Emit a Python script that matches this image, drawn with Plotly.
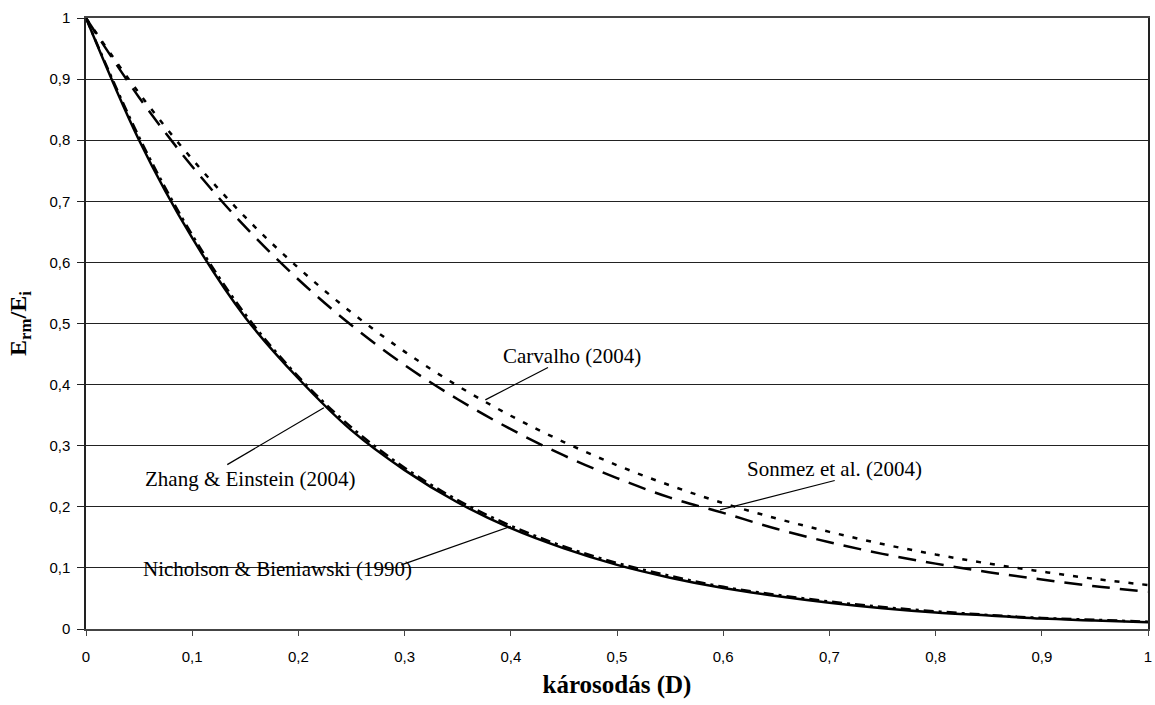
import plotly.graph_objects as go

D = [0, 0.05, 0.1, 0.15, 0.2, 0.25, 0.3, 0.35, 0.4, 0.45, 0.5,
     0.55, 0.6, 0.65, 0.7, 0.75, 0.8, 0.85, 0.9, 0.95, 1.0]

nicholson = [1, 0.80, 0.64, 0.51, 0.41, 0.325, 0.26, 0.207, 0.165, 0.132, 0.105,
             0.084, 0.067, 0.054, 0.043, 0.034, 0.027, 0.022, 0.017, 0.014, 0.011]
zhang = [1, 0.805, 0.645, 0.515, 0.413, 0.33, 0.264, 0.211, 0.169, 0.135, 0.108,
         0.087, 0.069, 0.056, 0.045, 0.036, 0.029, 0.023, 0.018, 0.015, 0.012]
carvalho = [1, 0.877, 0.769, 0.674, 0.591, 0.518, 0.454, 0.398, 0.349, 0.306, 0.268,
            0.235, 0.206, 0.181, 0.159, 0.139, 0.122, 0.107, 0.094, 0.082, 0.072]
sonmez = [1, 0.87, 0.757, 0.658, 0.572, 0.497, 0.432, 0.376, 0.327, 0.284, 0.247,
          0.215, 0.19, 0.164, 0.142, 0.123, 0.107, 0.093, 0.081, 0.070, 0.061]

tick_vals = [0, 0.1, 0.2, 0.3, 0.4, 0.5, 0.6, 0.7, 0.8, 0.9, 1]
tick_text = ["0", "0,1", "0,2", "0,3", "0,4", "0,5", "0,6", "0,7", "0,8", "0,9", "1"]

labels = ["Carvalho (2004)", "Sonmez et al. (2004)",
          "Zhang & Einstein (2004)", "Nicholson & Bieniawski (1990)"]

fig = go.Figure()
fig.add_trace(go.Scatter(x=D, y=carvalho, mode="lines", name=labels[0],
                         line=dict(color="black", width=2.5, dash="5px,9px", shape="spline")))
fig.add_trace(go.Scatter(x=D, y=sonmez, mode="lines", name=labels[1],
                         line=dict(color="black", width=2.5, dash="18px,10px", shape="spline")))
fig.add_trace(go.Scatter(x=D, y=nicholson, mode="lines", name=labels[3],
                         line=dict(color="black", width=2.5, shape="spline")))
fig.add_trace(go.Scatter(x=D, y=zhang, mode="lines", name=labels[2],
                         line=dict(color="black", width=2.5, dash="10px,5px,3px,5px", shape="spline")))

serif = "Liberation Serif, Times New Roman, serif"
ann_font = dict(family=serif, size=21, color="black")

# text centre (x, y), leader tip (x, y), leader start (x, y) in data coords
pos = [(0.458, 0.447, 0.376, 0.375, 0.435, 0.428),
       (0.705, 0.262, 0.597, 0.195, 0.705, 0.243),
       (0.155, 0.246, 0.224, 0.362, 0.133, 0.269),
       (0.18, 0.098, 0.40, 0.168, 0.297, 0.105)]
for lab, (tx, ty, ax0, ay0, ax1, ay1) in zip(labels, pos):
    fig.add_annotation(x=tx, y=ty, text=lab, showarrow=False, font=ann_font,
                       xanchor="center", yanchor="middle")
    fig.add_shape(type="line", x0=ax1, y0=ay1, x1=ax0, y1=ay0,
                  line=dict(color="black", width=1.2))

fig.update_layout(
    width=1155, height=705,
    margin=dict(l=86, r=3, t=18, b=76),
    paper_bgcolor="white", plot_bgcolor="white",
    showlegend=False,
    font=dict(family="Liberation Sans, Arial, sans-serif", size=15, color="black"),
)
fig.update_xaxes(range=[0, 1], tickvals=tick_vals, ticktext=tick_text,
                 showgrid=False, zeroline=False, showline=True, linecolor="#444",
                 linewidth=1.5, mirror=True, ticks="outside", ticklen=5, tickcolor="#444",
                 tickfont=dict(size=15), ticklabelstandoff=8,
                 title=dict(text="<b>károsodás (D)</b>", font=dict(family=serif, size=25),
                            standoff=12))
fig.update_yaxes(range=[0, 1], tickvals=tick_vals, ticktext=tick_text,
                 showgrid=True, gridcolor="#222", gridwidth=1, zeroline=False,
                 showline=True, linecolor="#222", linewidth=1.5, mirror=True,
                 ticks="outside", ticklen=7, tickcolor="#222", tickfont=dict(size=15),
                 ticklabelstandoff=4,
                 title=dict(text="<b>E<sub>rm</sub>/E<sub>i</sub></b>",
                            font=dict(family=serif, size=24), standoff=16))

fig.write_html("out.html")
